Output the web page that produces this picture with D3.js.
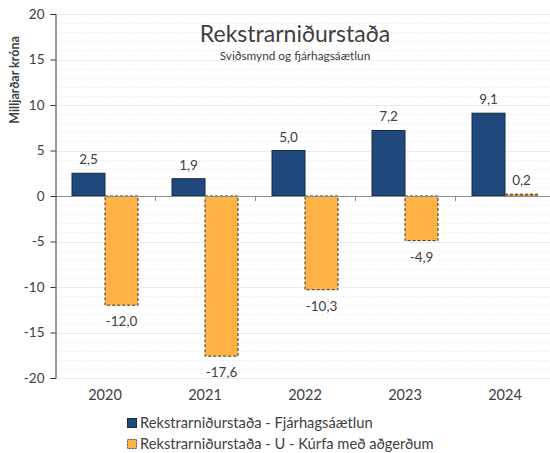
<!DOCTYPE html>
<html><head><meta charset="utf-8">
<script src="https://cdn.jsdelivr.net/npm/d3@7"></script>
<style>body{margin:0;background:#fff}svg{display:block}text{font-family:Lato,"Open Sans",sans-serif;fill:#404040}</style>
</head><body><svg id="c" width="550" height="453"></svg>
<script>
const categories = ["2020","2021","2022","2023","2024"];
const seriesNames = ["Rekstrarniðurstaða - Fjárhagsáætlun","Rekstrarniðurstaða - U - Kúrfa með aðgerðum"];
const budget = [2.5, 1.9, 5.0, 7.2, 9.1];
const ucurve = [-12.0, -17.6, -10.3, -4.9, 0.2];
const yTicks = [-20,-15,-10,-5,0,5,10,15,20];
const title = "Rekstrarniðurstaða";
const subtitle = "Sviðsmynd og fjárhagsáætlun";
const yLabel = "Milljarðar króna";

const svg = d3.select("#c");
const W = 550, H = 453;
const x0 = 55, x1 = 555, yTop = 14, yBot = 378;
const y = d3.scaleLinear().domain([-20,20]).range([yBot,yTop]);
const x = d3.scaleBand().domain(categories).range([x0,x1]).paddingInner(0).paddingOuter(0);
const inner = d3.scaleBand().domain([0,1]).range([17,83]).padding(0);
const fmt = v => d3.format(".1f")(v).replace(".",",").replace("−","-");
const colors = ["#1F497D","#FFB347"];

// minor gridlines
svg.append("g").selectAll("line").data(d3.range(-20,21,1).filter(v=>v%5!==0)).join("line")
  .attr("x1",x0).attr("x2",W).attr("y1",d=>Math.round(y(d))+0.5).attr("y2",d=>Math.round(y(d))+0.5)
  .attr("stroke","#e8e8e8").attr("stroke-dasharray","1,2").attr("stroke-width",1);
// major gridlines
svg.append("g").selectAll("line").data(yTicks.filter(v=>v!==0)).join("line")
  .attr("x1",x0).attr("x2",W).attr("y1",d=>Math.round(y(d))+0.5).attr("y2",d=>Math.round(y(d))+0.5)
  .attr("stroke","#ebebeb").attr("stroke-width",1.2);

// bars
const series = [budget, ucurve];
series.forEach((vals,si)=>{
  svg.append("g").selectAll("rect").data(vals).join("rect")
    .attr("x",(d,i)=>x(categories[i])+inner(si))
    .attr("width",inner.bandwidth())
    .attr("y",d=>Math.min(y(d),y(0)))
    .attr("height",d=>Math.abs(y(d)-y(0)))
    .attr("fill",colors[si])
    .attr("stroke", si===0?"#1a2a40":"#333")
    .attr("stroke-width",1)
    .attr("stroke-dasharray", si===1?"3,2":null);
  svg.append("g").selectAll("text").data(vals).join("text")
    .attr("x",(d,i)=>x(categories[i])+inner(si)+inner.bandwidth()/2)
    .attr("y",d=> d>=0 ? y(d)-9 : y(d)+21)
    .attr("text-anchor","middle").attr("font-size",13.5)
    .text(d=>fmt(d));
});

// zero line
svg.append("line").attr("x1",x0).attr("x2",W).attr("y1",Math.round(y(0))+0.5).attr("y2",Math.round(y(0))+0.5)
  .attr("stroke","#8c8c8c").attr("stroke-width",1);
// category ticks
svg.append("g").selectAll("line").data(categories.slice(1)).join("line")
  .attr("x1",d=>Math.round(x(d))+0.5).attr("x2",d=>Math.round(x(d))+0.5)
  .attr("y1",y(0)).attr("y2",y(0)+5).attr("stroke","#8c8c8c");

// y axis
const yAxis = d3.axisLeft(y).tickValues(yTicks).tickSize(5).tickPadding(6).tickFormat(d=>String(d));
const ga = svg.append("g").attr("transform",`translate(${x0+0.5},0)`).call(yAxis);
ga.select(".domain").attr("stroke","#333");
ga.selectAll(".tick line").attr("stroke","#333");
ga.selectAll(".tick text").attr("font-size",13.5).attr("fill","#404040").style("font-family","Lato,'Open Sans',sans-serif");

// x labels
svg.append("g").selectAll("text").data(categories).join("text")
  .attr("x",d=>x(d)+x.bandwidth()/2).attr("y",400)
  .attr("text-anchor","middle").attr("font-size",14.5).text(d=>d);

// titles
svg.append("text").attr("x",295).attr("y",42).attr("text-anchor","middle").attr("font-size",23).attr("fill","#222").text(title);
svg.append("text").attr("x",295).attr("y",60).attr("text-anchor","middle").attr("font-size",11.8).attr("fill","#333").text(subtitle);
svg.append("text").attr("transform","translate(19,80) rotate(-90)").attr("text-anchor","middle")
  .attr("font-size",12.5).attr("font-weight","bold").attr("fill","#111").text(yLabel);

// legend
const lg = svg.append("g");
seriesNames.forEach((n,i)=>{
  const ly = 423 + i*21;
  lg.append("rect").attr("x",127.5).attr("y",ly-4.5).attr("width",9).attr("height",9)
    .attr("fill",colors[i]).attr("stroke",i===0?"#1a2a40":"#555").attr("stroke-dasharray",i===1?"2,1":null);
  lg.append("text").attr("x",140).attr("y",ly+5).attr("font-size",14.7).attr("fill","#333").text(n);
});
</script></body></html>
